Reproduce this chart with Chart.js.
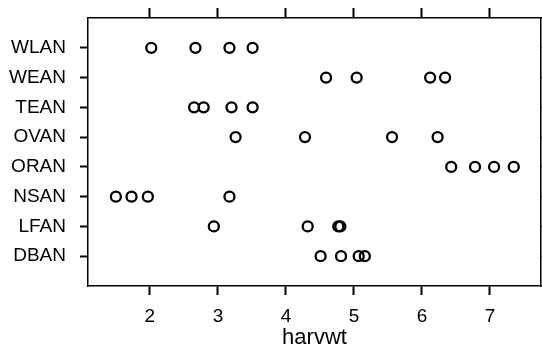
<!DOCTYPE html>
<html>
<head>
<meta charset="utf-8">
<script src="https://cdn.jsdelivr.net/npm/chart.js@4.4.0/dist/chart.umd.min.js"></script>
<style>
html,body{margin:0;padding:0;background:#fff;}
#wrap{width:542px;height:348px;}
</style>
</head>
<body>
<div id="wrap"><canvas id="dotplot" width="542" height="348"></canvas></div>
<script>
// categories from bottom to top
const categories = ['DBAN','LFAN','NSAN','ORAN','OVAN','TEAN','WEAN','WLAN'];
const dban = [4.51, 4.81, 5.07, 5.16];
const lfan = [2.94, 4.32, 4.77, 4.80];
const nsan = [1.50, 1.73, 1.97, 3.17];
const oran = [6.43, 6.78, 7.06, 7.35];
const ovan = [3.26, 4.28, 5.56, 6.23];
const tean = [2.65, 2.79, 3.20, 3.51];
const wean = [4.59, 5.04, 6.12, 6.34];
const wlan = [2.02, 2.67, 3.17, 3.51];
const xTicks = [2, 3, 4, 5, 6, 7];
const xTitle = 'harvwt';

const seriesList = [dban, lfan, nsan, oran, ovan, tean, wean, wlan];
let points = [];
seriesList.forEach(function(vals, i){
	vals.forEach(function(v){ points.push({x: v, y: i + 1}); });
});

const fontFam = "'Liberation Sans', Arial, sans-serif";
const xMin = 1.09, xMax = 7.75;

function tickGrid(len){
	return { drawOnChartArea: false, drawTicks: true, tickLength: len, tickWidth: 2, tickColor: '#000' };
}
const boxBorder = { display: true, color: '#000', width: 1.5 };
// fix axis size and drop the label overhang padding
function fixSize(w, h){
	return function(s){
		if (w !== null) s.width = w;
		if (h !== null) s.height = h;
		s.paddingTop = 0; s.paddingBottom = 0; s.paddingLeft = 0; s.paddingRight = 0;
	};
}

let ctx = document.getElementById('dotplot').getContext('2d');
let dotplot = new Chart(ctx, {
	type: 'scatter',
	data: {
		datasets: [{
			data: points,
			pointStyle: 'circle',
			pointRadius: 5,
			pointBorderWidth: 2.3,
			borderColor: '#000',
			backgroundColor: 'rgba(0,0,0,0)',
		}],
	},
	options: {
		responsive: false,
		animation: false,
		devicePixelRatio: 1,
		layout: { padding: 0, autoPadding: false },
		plugins: { legend: { display: false }, tooltip: { enabled: false } },
		scales: {
			x: {
				type: 'linear', position: 'bottom', min: xMin, max: xMax,
				afterBuildTicks: s => { s.ticks = xTicks.map(v => ({value: v})); },
				afterFit: fixSize(null, 62),
				grid: tickGrid(9),
				border: boxBorder,
				ticks: { color: '#000', padding: 10, maxRotation: 0, font: { family: fontFam, size: 19 } },
				title: { display: true, text: xTitle, color: '#000', padding: { top: 0, bottom: -1 },
					font: { family: fontFam, size: 22, lineHeight: 1 } },
			},
			xTop: {
				type: 'linear', position: 'top', min: xMin, max: xMax,
				afterBuildTicks: s => { s.ticks = xTicks.map(v => ({value: v})); },
				afterFit: fixSize(null, 18),
				grid: tickGrid(10),
				border: boxBorder,
				ticks: { display: false },
			},
			y: {
				type: 'linear', position: 'left', min: 0, max: 9,
				afterBuildTicks: s => { s.ticks = categories.map((c, i) => ({value: i + 1})); },
				afterFit: fixSize(88, null),
				grid: tickGrid(8),
				border: boxBorder,
				ticks: { color: '#000', padding: 14, font: { family: fontFam, size: 19 },
					callback: v => categories[v - 1] },
			},
			yRight: {
				type: 'linear', position: 'right', min: 0, max: 9,
				afterBuildTicks: s => { s.ticks = categories.map((c, i) => ({value: i + 1})); },
				afterFit: fixSize(1, null),
				grid: tickGrid(8),
				border: boxBorder,
				ticks: { display: false },
			},
		},
	},
});
</script>
</body>
</html>
